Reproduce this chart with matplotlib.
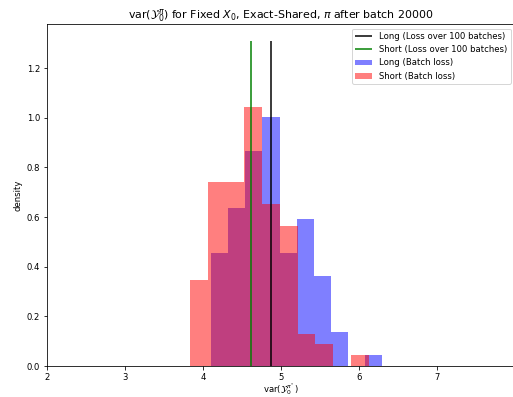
import numpy as np
import matplotlib.pyplot as plt

# histogram counts (100 samples each)
long_counts = [10, 14, 19, 22, 10, 13, 8, 3, 0, 1]
long_range = (4.103, 6.299)
short_counts = [8, 17, 17, 24, 15, 13, 3, 2, 0, 1]
short_range = (3.833, 6.131)

# mean values from the loss over 100 batches
long_mean = 4.876
short_mean = 4.611
line_top = 1.31


def hist_from_counts(ax, counts, rng, **kw):
    edges = np.linspace(rng[0], rng[1], len(counts) + 1)
    centers = 0.5 * (edges[:-1] + edges[1:])
    ax.hist(centers, bins=edges, weights=counts, density=True, **kw)


fig = plt.figure(figsize=(513 / 72, 397 / 72), dpi=72)
ax = fig.add_axes([47 / 513, 31 / 397, 468 / 513, 341.7 / 397])

ax.vlines(long_mean, 0, line_top, color='black', label='Long (Loss over 100 batches)')
ax.vlines(short_mean, 0, line_top, color='green', label='Short (Loss over 100 batches)')
hist_from_counts(ax, long_counts, long_range, color='blue', alpha=0.5, label='Long (Batch loss)')
hist_from_counts(ax, short_counts, short_range, color='red', alpha=0.5, label='Short (Batch loss)')

ax.set_xlim(2, 8)
ax.set_ylim(0, 1.376)
ax.set_xticks([2, 3, 4, 5, 6, 7])
ax.tick_params(labelsize=8.5)
ax.set_xlabel(r'var($\mathcal{Y}_0^{\pi^*}$)', fontsize=8.5, labelpad=-1)
ax.set_ylabel('density', fontsize=8.5)
ax.set_title(r'var($\mathcal{Y}_0^{\pi}$) for Fixed $X_0$, Exact-Shared, $\pi$ after batch 20000',
             fontsize=11)
ax.legend(loc='upper right', fontsize=8.5)

fig.savefig('out.png', dpi=72)
